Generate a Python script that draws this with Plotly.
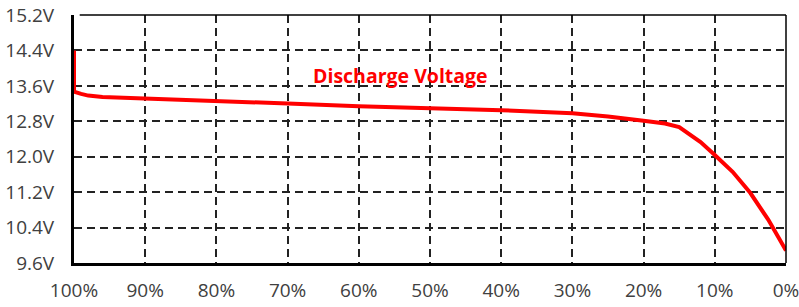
import plotly.graph_objects as go

soc_pct = [100, 100, 99, 98, 96, 93, 90, 80, 70, 60, 50, 40, 30, 25, 20, 17, 15, 13, 12, 10, 7.5, 5, 2.5, 0]
voltage = [14.4, 13.47, 13.42, 13.38, 13.35, 13.33, 13.32, 13.26, 13.2, 13.14, 13.1, 13.05, 12.98, 12.91, 12.81, 12.75, 12.67, 12.46, 12.33, 12.04, 11.66, 11.18, 10.58, 9.88]

x_ticks = [100, 90, 80, 70, 60, 50, 40, 30, 20, 10, 0]
x_labels = ["100%", "90%", "80%", "70%", "60%", "50%", "40%", "30%", "20%", "10%", "0%"]
y_ticks = [9.6, 10.4, 11.2, 12.0, 12.8, 13.6, 14.4, 15.2]
y_labels = ["9.6V", "10.4V", "11.2V", "12.0V", "12.8V", "13.6V", "14.4V", "15.2V"]

series_name = "Discharge Voltage"

fig = go.Figure()
fig.add_trace(go.Scatter(
    x=soc_pct, y=voltage, mode="lines", name=series_name,
    line=dict(color="#FF0000", width=4), line_shape="linear",
    showlegend=False, hoverinfo="skip"))

font = dict(family="Open Sans, Liberation Sans, sans-serif", size=19, color="#404040")

fig.update_layout(
    width=799, height=307,
    margin=dict(l=74, r=13, t=15, b=44),
    paper_bgcolor="white", plot_bgcolor="white",
    font=font,
    xaxis=dict(
        range=[100, 0], tickmode="array", tickvals=x_ticks, ticktext=x_labels,
        showgrid=True, gridcolor="#222222", gridwidth=1.5, griddash="8px,5px",
        showline=True, linecolor="black", linewidth=3,
        ticks="", ticklabelstandoff=8, zeroline=False, automargin=False,
        ticklabeloverflow="allow", tickfont=font),
    yaxis=dict(
        range=[9.6, 15.2], tickmode="array", tickvals=y_ticks, ticktext=y_labels,
        showgrid=True, gridcolor="#222222", gridwidth=1.5, griddash="8px,5px",
        showline=True, linecolor="black", linewidth=3,
        ticks="", ticklabelstandoff=13, zeroline=False, automargin=False,
        ticklabeloverflow="allow", tickfont=font),
    annotations=[dict(
        x=0.459, y=0.758, xref="paper", yref="paper", xanchor="center", yanchor="middle",
        text="<b>" + series_name + "</b>",
        showarrow=False, font=dict(family="Open Sans, Liberation Sans, sans-serif", size=19.5, color="#FF0000"))],
    shapes=[
        dict(type="line", xref="paper", yref="paper", x0=0.008, x1=1, y0=1, y1=1,
             line=dict(color="black", width=1.5)),
        dict(type="line", xref="paper", yref="paper", x0=1, x1=1, y0=0, y1=1,
             line=dict(color="black", width=1.5)),
    ],
)

fig.write_html("out.html", config={"displayModeBar": False},
               post_script="document.body.style.margin='0';document.body.style.overflow='hidden';")
